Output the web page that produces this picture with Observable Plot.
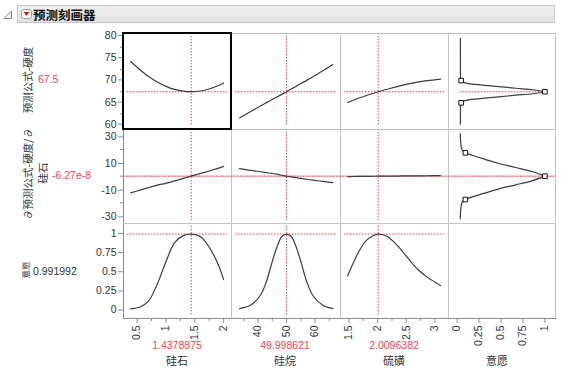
<!DOCTYPE html>
<html><head><meta charset="utf-8">
<script src="https://cdn.jsdelivr.net/npm/d3@7"></script>
<script src="https://cdn.jsdelivr.net/npm/@observablehq/plot@0.6"></script>
<style>
body{margin:0;background:#fff;}
#root{position:relative;width:561px;height:369px;overflow:hidden;background:#fff;font-family:"Liberation Sans","Noto Sans CJK SC",sans-serif;color:#333;}
.a{position:absolute;white-space:nowrap;}
.rot{transform:translate(-50%,-50%) rotate(-90deg);}
.ctr{transform:translate(-50%,-50%);}
.vc{transform:translateY(-50%);}
.red{color:#ee4455;}
.ln{position:absolute;background:#c4c4c4;}
.cjk{font-family:"Noto Sans CJK SC",sans-serif;}
</style></head><body><div id="root"></div>
<script>
// ---- data ----
const factorNames = ["硅石", "硅烷", "硫磺"];
const currentValues = [1.4378875, 49.998621, 2.0096382];
const currentLabels = ["1.4378875", "49.998621", "2.0096382"];
const responseNames = ["预测公式-硬度", "∂预测公式-硬度/∂", "意愿"];
const responseValues = [67.5, -6.27e-8, 0.991992];
const responseLabels = ["67.5", "-6.27e-8", "0.991992"];

// silica (硅石)
const silicaX = [0.39, 0.55, 0.7, 0.85, 1.0, 1.15, 1.3, 1.4379, 1.6, 1.75, 1.9, 2.0];
const silicaHard = [74.3, 72.45, 70.9, 69.67, 68.7, 68.02, 67.62, 67.5, 67.66, 68.11, 68.84, 69.48];
const silicaDeriv = [-12.5, -10.5, -8.6, -6.75, -5.35, -3.55, -1.7, 0, 2.05, 3.9, 5.8, 7.3];
const silicaDesir = [0.016, 0.04, 0.12, 0.34, 0.63, 0.88, 0.972, 0.992, 0.958, 0.82, 0.606, 0.398];

// silane (硅烷)
const silaneX = [33.5, 37.3, 40.8, 43.1, 44.8, 46.6, 48.35, 50, 51.65, 53.4, 55.2, 56.9, 59.2, 62.7, 66.2];
const silaneHard = [61.6, 63.0, 64.3, 65.1, 65.7, 66.3, 66.9, 67.5, 68.1, 68.75, 69.4, 70.0, 70.85, 72.2, 73.6];
const silaneDeriv = [5.6, 4.4, 3.3, 2.6, 2.1, 1.5, 0.7, 0, -0.55, -1.15, -1.7, -2.3, -3.0, -3.95, -4.9];
const silaneDesir = [0.02, 0.063, 0.19, 0.39, 0.61, 0.82, 0.96, 0.992, 0.96, 0.82, 0.61, 0.39, 0.19, 0.063, 0.02];

// sulfur (硫磺)
const sulfurX = [1.479, 1.584, 1.70, 1.818, 2.0096, 2.167, 2.341, 2.516, 2.69, 2.865, 3.097];
const sulfurHard = [65.1, 65.65, 66.2, 66.7, 67.5, 68.05, 68.65, 69.2, 69.65, 70.0, 70.35];
const sulfurDeriv = [-0.3, -0.25, -0.2, -0.15, 0, 0.05, 0.1, 0.2, 0.25, 0.3, 0.4];
const sulfurDesir = [0.45, 0.63, 0.80, 0.92, 0.992, 0.96, 0.845, 0.69, 0.54, 0.43, 0.32];

// desirability function for 硬度 (upper and lower branches)
const hardFnD = [0.037, 0.038, 0.040, 0.046, 0.08, 0.13, 0.285, 0.477, 0.668, 0.859, 1.0];
const hardFnUpper = [79.5, 75.0, 70.6, 70.0, 69.6, 69.32, 69.0, 68.65, 68.28, 67.95, 67.5];
const hardFnLower = [60.2, 62.5, 64.4, 65.0, 65.4, 65.68, 66.0, 66.35, 66.72, 67.05, 67.5];
const hardFnPts = [[0.046, 70.0], [1.0, 67.5], [0.046, 65.0]];

// desirability function for the derivative
const derivFnD = [0.036, 0.040, 0.05, 0.065, 0.094, 0.285, 0.477, 0.669, 0.86, 1.0];
const derivFnUpper = [32, 26, 21, 19, 17.5, 13.3, 9.5, 6.5, 3.3, 0];
const derivFnLower = [-32, -26, -21, -19, -17.5, -13.3, -9.5, -6.5, -3.3, 0];
const derivFnPts = [[0.094, 17.5], [1.0, 0], [0.094, -17.5]];

// axis ticks
const xMajor = [[0.5, 1, 1.5, 2], [40, 50, 60], [1.5, 2, 2.5, 3], [0, 0.25, 0.5, 0.75, 1]];
const xMinor = [[0.75, 1.25, 1.75], [35, 45, 55, 65], [1.75, 2.25, 2.75], []];
const yMajor = [[60, 65, 70, 75, 80], [-30, -10, 10, 30], [0, 0.25, 0.5, 0.75, 1]];
const yMinor = [[62.5, 67.5, 72.5, 77.5], [-20, 0, 20], []];

// ---- layout ----
const xDom = [[0.2646, 2.136], [30.7, 68.9], [1.352, 3.236], [-0.098, 1.132]];
const yDom = [[59.0, 80.6], [-35.5, 35.0], [-0.11, 1.13]];
const X0 = [123, 231, 340, 448], X1 = [231, 340, 448, 556];
const Y0 = [33, 129, 223], Y1 = [129, 223, 318];
const yLabelShift = [-0.7, 0.7, 0];
const RED = "#e8404f", CURVE = "#3c3c3c", DASH = "1.5,1.5";

const root = document.getElementById("root");
function add(html){ root.insertAdjacentHTML("beforeend", html); }

// title bar
add(`<div class="a" style="left:17px;top:5px;width:538px;height:18px;background:linear-gradient(#f0f0f0,#e2e2e2);border:1px solid #c6c6c6;box-sizing:border-box;"></div>`);
add(`<svg class="a" style="left:0;top:0" width="40" height="26"><polygon points="11.5,11 11.5,18.5 4,18.5" fill="none" stroke="#808080" stroke-width="1"/><rect x="21.5" y="9.5" width="10" height="9" rx="2" fill="#fafafa" stroke="#a0a0a0"/><polygon points="23.5,12 29.5,12 26.5,16" fill="#d42020"/></svg>`);
add(`<div class="a vc cjk" style="left:33px;top:14px;font-size:12.5px;font-weight:bold;color:#111;">预测刻画器</div>`);

// panel frame lines
[123, 231, 340, 448, 555].forEach((x, i) => add(`<div class="ln" style="left:${x}px;top:33px;width:1px;height:286px;${i===0?'background:#8c8c8c;':''}"></div>`));
[33, 129, 223, 318].forEach((y, i) => add(`<div class="ln" style="left:123px;top:${y}px;width:433px;height:1px;${i===3?'background:#8c8c8c;':''}"></div>`));

const fmt = d => String(d);
function mk(r, c, marks) {
  const ml = c === 0 ? 40 : 0, mb = r === 2 ? 40 : 0;
  const w = X1[c] - X0[c], h = Y1[r] - Y0[r];
  const axes = [];
  if (c === 0) {
    axes.push(Plot.axisY({ticks: yMajor[r], tickSize: 5, tickPadding: 2, label: null, tickFormat: fmt, stroke: "#8c8c8c", fill: "#333", dy: yLabelShift[r]}));
    if (yMinor[r].length) axes.push(Plot.axisY({ticks: yMinor[r], tickSize: 3, label: null, tickFormat: () => "", stroke: "#8c8c8c"}));
  }
  if (r === 2) {
    axes.push(Plot.axisX({ticks: xMajor[c], tickSize: 5, tickPadding: 2, tickRotate: -90, label: null, tickFormat: fmt, stroke: "#8c8c8c", fill: "#333"}));
    if (xMinor[c].length) axes.push(Plot.axisX({ticks: xMinor[c], tickSize: 3, label: null, tickFormat: () => "", stroke: "#8c8c8c"}));
  }
  const el = Plot.plot({
    width: w + ml, height: h + mb,
    marginLeft: ml, marginRight: 0, marginTop: 0, marginBottom: mb,
    x: {domain: xDom[c], axis: null},
    y: {domain: yDom[r], axis: null},
    style: {fontFamily: "'Liberation Sans', sans-serif", fontSize: "10.5px", color: "#333", background: "none", overflow: "visible"},
    marks: [...marks, ...axes]
  });
  el.style.position = "absolute";
  el.style.left = (X0[c] - ml) + "px";
  el.style.top = Y0[r] + "px";
  root.appendChild(el);
}

const factorX = [silicaX, silaneX, sulfurX];
const rowsY = [[silicaHard, silaneHard, sulfurHard], [silicaDeriv, silaneDeriv, sulfurDeriv], [silicaDesir, silaneDesir, sulfurDesir]];

for (let r = 0; r < 3; r++) {
  for (let c = 0; c < 3; c++) {
    const xs = factorX[c], ys = rowsY[r][c];
    const marks = [];
    if (r === 1) marks.push(Plot.ruleY([responseValues[1]], {stroke: "#f6b3bb", strokeWidth: 1}));
    marks.push(Plot.ruleY([responseValues[r]], {stroke: RED, strokeDasharray: DASH, insetLeft: r === 1 ? 0 : 4, insetRight: r === 1 ? 0 : 4}));
    marks.push(Plot.ruleX([currentValues[c]], {stroke: RED, strokeDasharray: DASH, insetTop: 3, insetBottom: 3}));
    marks.push(Plot.line(xs.map((x, i) => ({x, y: ys[i]})), {x: "x", y: "y", stroke: CURVE, strokeWidth: 1.2, curve: "catmull-rom"}));
    mk(r, c, marks);
  }
}

// desirability column
const hardFn = [...hardFnD.map((d, i) => ({d, v: hardFnUpper[i], s: "u"})), ...hardFnD.map((d, i) => ({d, v: hardFnLower[i], s: "l"}))];
mk(0, 3, [
  Plot.ruleY([responseValues[0]], {x1: hardFnD[0], x2: 1.0, stroke: RED, strokeDasharray: DASH}),
  Plot.line(hardFn, {x: "d", y: "v", z: "s", stroke: CURVE, strokeWidth: 1.2, curve: "catmull-rom"}),
  Plot.dot(hardFnPts, {x: "0", y: "1", symbol: "square", r: 2.6, stroke: "#111", fill: "#fff", strokeWidth: 1})
]);
const derivFn = [...derivFnD.map((d, i) => ({d, v: derivFnUpper[i], s: "u"})), ...derivFnD.map((d, i) => ({d, v: derivFnLower[i], s: "l"}))];
mk(1, 3, [
  Plot.ruleY([responseValues[1]], {stroke: "#f6b3bb", strokeWidth: 1}),
  Plot.ruleY([responseValues[1]], {stroke: RED, strokeDasharray: DASH}),
  Plot.line(derivFn, {x: "d", y: "v", z: "s", stroke: CURVE, strokeWidth: 1.2, curve: "catmull-rom"}),
  Plot.dot(derivFnPts, {x: "0", y: "1", symbol: "square", r: 2.6, stroke: "#111", fill: "#fff", strokeWidth: 1})
]);
mk(2, 3, []);

// selected panel border
add(`<div class="a" style="left:122px;top:32px;width:110px;height:98px;border:2px solid #000;box-sizing:border-box;"></div>`);

// left labels
add(`<div class="a rot cjk" style="left:27px;top:80px;font-size:10.5px;">${responseNames[0]}</div>`);
add(`<div class="a red vc" style="left:38px;top:79px;font-size:10.5px;">${responseLabels[0]}</div>`);
add(`<div class="a rot cjk" style="left:27px;top:174px;font-size:10.5px;">${responseNames[1]}</div>`);
add(`<div class="a rot cjk" style="left:42px;top:173px;font-size:10.5px;">${factorNames[0]}</div>`);
add(`<div class="a red vc" style="left:52px;top:175px;font-size:10.5px;">${responseLabels[1]}</div>`);
add(`<div class="a rot cjk" style="left:25px;top:270px;font-size:8.5px;">${responseNames[2]}</div>`);
add(`<div class="a vc" style="left:33px;top:271px;font-size:10.5px;">${responseLabels[2]}</div>`);

// bottom labels
const cx = [177, 285, 394, 497];
for (let c = 0; c < 3; c++) {
  add(`<div class="a red ctr" style="left:${cx[c]}px;top:345px;font-size:10.5px;">${currentLabels[c]}</div>`);
  add(`<div class="a ctr cjk" style="left:${cx[c]}px;top:359.5px;font-size:11px;">${factorNames[c]}</div>`);
}
add(`<div class="a ctr cjk" style="left:${cx[3]}px;top:359.5px;font-size:11px;">${responseNames[2]}</div>`);
</script></body></html>
